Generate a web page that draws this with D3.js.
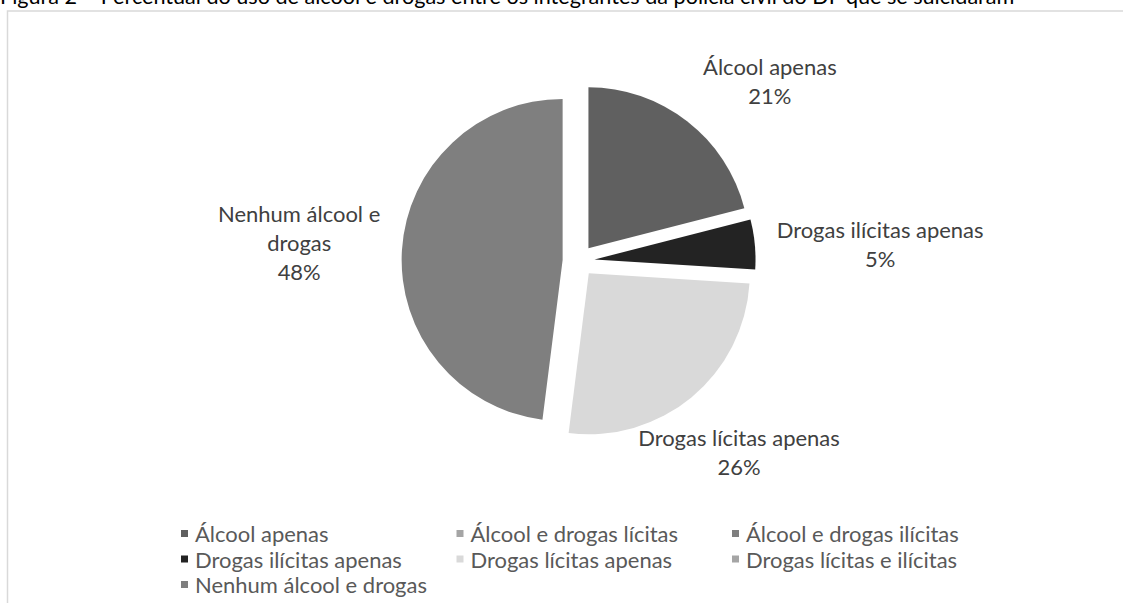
<!DOCTYPE html>
<html>
<head>
<meta charset="utf-8">
<script src="https://cdn.jsdelivr.net/npm/d3@7"></script>
<style>
  html, body { margin: 0; padding: 0; background: #fff; }
  svg { display: block; }
</style>
</head>
<body>
<svg id="chart" width="1123" height="603"></svg>
<script>
// ---- data ----
const titleText = "Figura 2 – Percentual do uso de álcool e drogas entre os integrantes da polícia civil do DF que se suicidaram";
const categories = [
  "Álcool apenas",
  "Álcool e drogas lícitas",
  "Álcool e drogas ilícitas",
  "Drogas ilícitas apenas",
  "Drogas lícitas apenas",
  "Drogas lícitas e ilícitas",
  "Nenhum álcool e drogas"
];
const values = [21, 0, 0, 5, 26, 0, 48];
const colors = ["#606060", "#a5a5a5", "#7f7f7f", "#232323", "#d9d9d9", "#a5a5a5", "#7f7f7f"];
const labelLines = [
  ["Álcool apenas", "21%"],
  null, null,
  ["Drogas ilícitas apenas", "5%"],
  ["Drogas lícitas apenas", "26%"],
  null,
  ["Nenhum álcool e", "drogas", "48%"]
];

// ---- layout ----
const W = 1123, H = 603;
const cx = 578.6, cy = 261, R = 161, explode = 16;
const FONT = "Lato, 'Open Sans', sans-serif";
// label block placement: polar angle (deg from 12 o'clock) and distance from pie centre
const labelPolar = [[46.9, 262], null, null, [86.8, 302], [140.1, 250], null, [273.7, 280]];
const lineH = 29;

const svg = d3.select("#chart");

// fit a font size so a sample string reaches a target width
function fitSize(sample, target, base) {
  const t = svg.append("text").attr("font-family", FONT).attr("font-size", base).text(sample);
  const w = t.node().getComputedTextLength();
  t.remove();
  return w > 0 ? base * target / w : base;
}
const titleSize = fitSize(titleText, 1015, 22);
const textSize = fitSize("Drogas ilícitas apenas", 207, 22);

// frame
svg.append("rect")
  .attr("x", 7.5).attr("y", 11)
  .attr("width", 1300).attr("height", 800)
  .attr("fill", "none").attr("stroke", "#d9d9d9").attr("stroke-width", 1.5);

// title (top clipped)
svg.append("text")
  .attr("x", 0).attr("y", 4)
  .attr("font-family", FONT).attr("font-size", titleSize)
  .attr("fill", "#000")
  .text(titleText);

// pie
const pie = d3.pie().sort(null).value(d => d).startAngle(0).endAngle(2 * Math.PI);
const arcs = pie(values);
const arcGen = d3.arc().innerRadius(0).outerRadius(R);

const g = svg.append("g").attr("transform", `translate(${cx},${cy})`);
g.selectAll("path")
  .data(arcs.filter(a => a.value > 0))
  .join("path")
  .attr("d", arcGen)
  .attr("fill", d => colors[d.index])
  .attr("transform", d => {
    const a = (d.startAngle + d.endAngle) / 2;
    return `translate(${explode * Math.sin(a)},${-explode * Math.cos(a)})`;
  });

// data labels
arcs.forEach((a, i) => {
  if (!labelLines[i] || a.value <= 0) return;
  const [deg, dist] = labelPolar[i];
  const ang = deg * Math.PI / 180;
  const bx = cx + dist * Math.sin(ang);
  const by = cy - dist * Math.cos(ang);
  const lines = labelLines[i];
  const t = svg.append("text")
    .attr("font-family", FONT).attr("font-size", textSize)
    .attr("fill", "#404040").attr("text-anchor", "middle");
  lines.forEach((ln, k) => {
    t.append("tspan")
      .attr("x", bx)
      .attr("y", by - (lines.length - 1) * lineH / 2 + k * lineH + 8)
      .text(ln);
  });
});

// legend
const colW = 275.5, rowH = 25.5, legX = 181, legY = 542;
const leg = svg.append("g");
categories.forEach((c, i) => {
  const col = i % 3, row = Math.floor(i / 3);
  const x = legX + col * colW, y = legY + row * rowH;
  leg.append("rect").attr("x", x).attr("y", y - 12).attr("width", 7).attr("height", 7).attr("fill", colors[i]);
  leg.append("text").attr("x", x + 14).attr("y", y)
    .attr("font-family", FONT).attr("font-size", textSize).attr("fill", "#595959")
    .text(c);
});
</script>
</body>
</html>
